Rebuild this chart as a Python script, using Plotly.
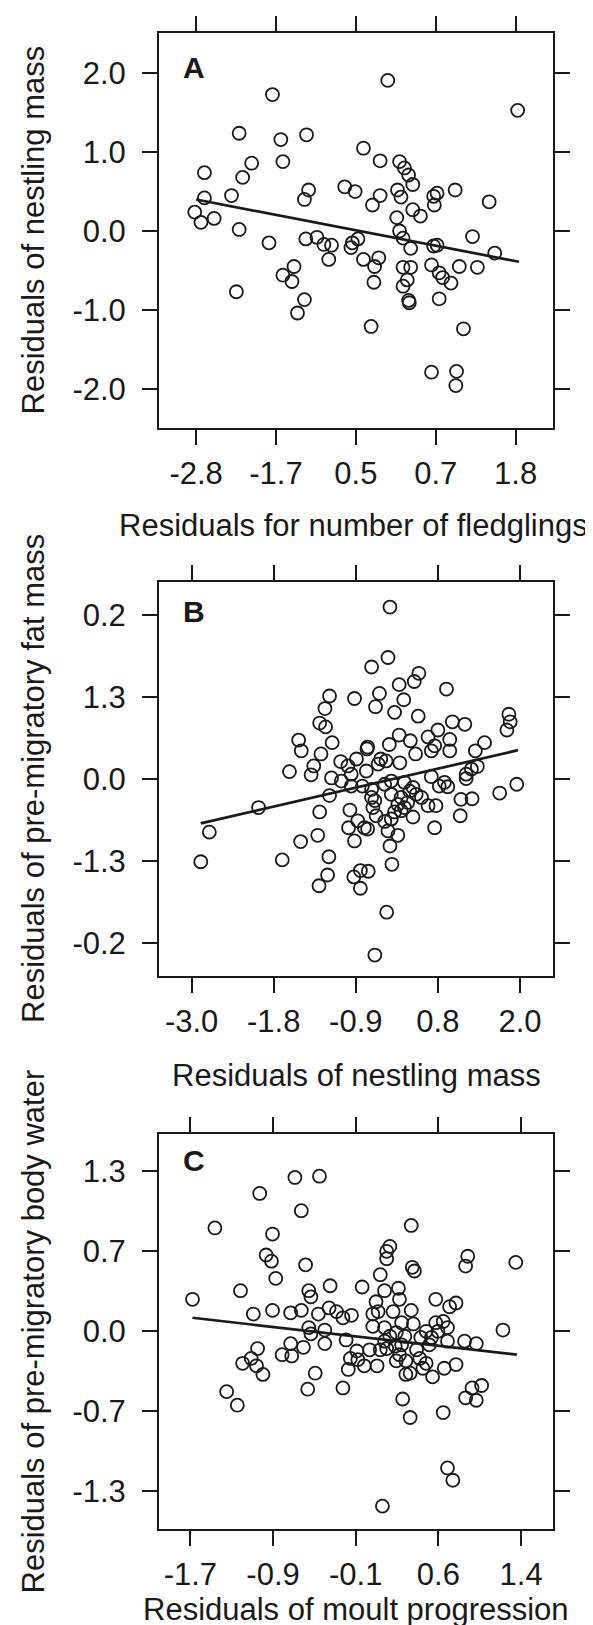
import plotly.graph_objects as go

# ---------------- Panel A ----------------
a_x = [-0.04, -1.70, 1.83, -2.18, -1.58, -1.21, -0.39, -2.68, -2.00, -1.55,
       -0.15, 0.13, 0.20, 0.26, 0.32, -2.13, -2.29, -2.68, -1.18, -1.24,
       -0.66, -0.51, -0.15, -0.26, 0.10, 0.15, 0.32, 0.43, 0.62, 0.67,
       0.63, 0.93, 1.42, -2.82, -2.73, -2.54, -2.18, 0.09, 0.13, 0.18,
       0.29, -1.75, -1.22, -1.06, -0.96, -0.85, -0.55, -0.47, -0.57, -0.89,
       -0.39, -0.17, -0.23, 0.62, 0.67, 1.18, 1.50, 0.59, 0.70, 0.75,
       0.87, 0.99, 1.25, -1.39, -1.55, -1.42, 0.18, 0.29, 0.24, 0.18,
       -0.24, -2.22, -1.24, -1.34, 0.26, 0.27, 0.70, -0.28, 1.05, 0.59,
       0.95, 0.94]
a_y = [1.91, 1.73, 1.53, 1.24, 1.16, 1.22, 1.05, 0.74, 0.86, 0.88,
       0.89, 0.88, 0.80, 0.71, 0.59, 0.68, 0.45, 0.42, 0.52, 0.40,
       0.56, 0.50, 0.45, 0.33, 0.52, 0.43, 0.27, 0.19, 0.44, 0.48,
       0.33, 0.52, 0.37, 0.24, 0.11, 0.16, 0.02, 0.17, 0.00, -0.09,
       -0.22, -0.15, -0.10, -0.08, -0.17, -0.18, -0.15, -0.10, -0.21, -0.36,
       -0.36, -0.34, -0.45, -0.19, -0.18, -0.07, -0.28, -0.43, -0.53, -0.59,
       -0.66, -0.45, -0.46, -0.45, -0.56, -0.64, -0.46, -0.46, -0.62, -0.70,
       -0.65, -0.77, -0.87, -1.04, -0.88, -0.91, -0.86, -1.21, -1.24, -1.79,
       -1.78, -1.96]
a_fit_x = [-2.80, 1.85]
a_fit_y = [0.40, -0.39]
a_xtickvals = [-2.8, -1.65, -0.5, 0.65, 1.8]
a_xticktext = ["-2.8", "-1.7", "0.5", "0.7", "1.8"]
a_ytickvals = [2.0, 1.0, 0.0, -1.0, -2.0]
a_yticktext = ["2.0", "1.0", "0.0", "-1.0", "-2.0"]

# ---------------- Panel B ----------------
b_x = [0.02, -0.01, -0.26, 0.46, 0.39, 0.16, 0.88, -0.90, -0.52, -0.14,
       -0.20, 0.23, -0.97, 0.09, 0.45, -1.05, -0.96, 0.97, 1.16, -1.37,
       -1.33, -0.86, -0.32, 0.01, 0.16, 0.33, 0.60, 0.75, 0.93, 0.70,
       0.65, 0.93, 1.46, 1.32, -1.03, -1.14, -1.51, -1.18, -0.87, -0.73,
       -0.62, -0.49, -0.33, -0.12, -0.04, 0.17, 0.41, -0.34, -0.57, -0.57,
       -0.40, -0.26, -0.06, 0.04, 0.24, 0.37, 0.65, 0.85, 0.90, 1.18,
       1.18, 1.35, 1.26, -0.90, -0.26, -0.21, 0.04, 0.19, 0.14, 0.24,
       0.50, 0.60, 0.72, 1.10, 1.27, -1.98, -1.05, -0.59, -0.47, -0.19,
       -0.06, 0.04, 0.09, 0.37, 1.09, -2.73, -2.86, -1.62, -1.34, -1.08,
       -0.61, -0.52, -0.37, -0.32, -0.01, 0.14, 0.70, 0.02, -0.91, -0.93,
       -1.06, -0.53, -0.43, -0.31, -0.43, 0.05, -0.03, -0.21, 0.77, -0.16,
       -0.72, -0.24, 0.32, 0.29, 0.19, 0.42, 1.83, 1.85, 1.80, 1.95,
       1.69]
b_y = [2.73, 1.93, 1.78, 1.68, 1.55, 1.50, 1.43, 1.32, 1.28, 1.36,
       1.15, 1.26, 1.12, 1.06, 1.00, 0.89, 0.83, 0.91, 0.87, 0.62,
       0.45, 0.58, 0.51, 0.55, 0.70, 0.61, 0.67, 0.78, 0.63, 0.53,
       0.45, 0.45, 0.58, 0.45, 0.40, 0.21, 0.12, 0.07, 0.02, 0.28,
       0.21, 0.32, 0.48, 0.32, 0.29, 0.26, 0.40, 0.13, 0.08, -0.11,
       -0.11, -0.16, -0.08, -0.03, -0.05, -0.13, 0.04, -0.05, -0.12, 0.08,
       0.01, 0.20, 0.16, -0.26, -0.29, -0.34, -0.24, -0.29, -0.40, -0.45,
       -0.29, -0.42, -0.42, -0.32, -0.31, -0.45, -0.52, -0.49, -0.66, -0.58,
       -0.67, -0.63, -0.52, -0.60, -0.58, -0.84, -1.31, -1.28, -0.99, -0.89,
       -0.77, -0.98, -0.77, -0.79, -0.82, -0.89, -0.77, -1.06, -1.23, -1.52,
       -1.69, -1.55, -1.45, -1.46, -1.73, -1.35, -2.11, -2.79, -0.11, 0.24,
       -0.03, -0.45, -0.19, -0.37, -0.50, -0.24, 1.03, 0.91, 0.78, -0.08,
       -0.22]
b_fit_x = [-2.86, 1.97]
b_fit_y = [-0.70, 0.46]
b_xtickvals = [-3.0, -1.75, -0.5, 0.75, 2.0]
b_xticktext = ["-3.0", "-1.8", "-0.9", "0.8", "2.0"]
b_ytickvals = [2.6, 1.3, 0.0, -1.3, -2.6]
b_yticktext = ["0.2", "1.3", "0.0", "-1.3", "-0.2"]

# ---------------- Panel C ----------------
c_x = [-0.72, -0.49, -1.05, -0.66, -1.47, -0.93, 0.37, 0.17, 0.14, 0.14,
       -0.99, -0.94, -0.62, 0.38, 0.40, -0.90, 0.08, 0.90, 0.88, -1.68,
       -1.23, -0.59, -0.57, -0.39, -0.09, 0.12, 0.25, 0.26, 0.04, 0.06,
       0.60, 0.73, 0.79, -1.11, -0.93, -0.76, -0.66, -0.50, -0.40, -0.33,
       -0.27, -0.19, 0.01, 0.20, 0.37, 0.01, 0.28, 0.39, 0.60, 0.67,
       0.71, -0.59, -0.57, -0.44, -0.24, -0.44, -0.64, -0.76, -0.84, -0.75,
       -1.07, -1.13, -1.21, -1.08, -1.02, -1.36, -1.26, -0.53, -0.60, -0.27,
       -0.22, -0.13, -0.07, 0.05, 0.08, 0.12, 0.17, 0.22, 0.26, 0.32,
       0.23, 0.32, 0.36, 0.45, 0.48, 0.51, 0.54, 0.57, 0.56, 0.71,
       0.79, 0.68, 0.87, 0.98, 0.88, 0.94, 0.98, 1.03, 0.29, 0.36,
       0.67, 0.71, 0.76, 0.10, -0.14, -0.02, 0.14, 0.28, 0.42, 0.46,
       0.62, 0.51, -0.20, 0.12, 0.23, 0.31, 1.35, 1.23]
c_y = [1.25, 1.26, 1.12, 0.98, 0.84, 0.79, 0.86, 0.69, 0.65, 0.59,
       0.62, 0.57, 0.54, 0.52, 0.49, 0.43, 0.46, 0.61, 0.53, 0.26,
       0.33, 0.33, 0.28, 0.37, 0.36, 0.33, 0.35, 0.26, 0.24, 0.16,
       0.26, 0.20, 0.23, 0.14, 0.17, 0.15, 0.17, 0.14, 0.19, 0.16,
       0.11, 0.13, 0.14, 0.16, 0.17, 0.04, 0.07, 0.06, 0.07, 0.08,
       0.03, 0.03, -0.02, 0.01, -0.07, -0.10, -0.13, -0.10, -0.19, -0.20,
       -0.14, -0.22, -0.26, -0.28, -0.35, -0.49, -0.60, -0.34, -0.47, -0.46,
       -0.31, -0.23, -0.28, -0.28, -0.15, -0.08, -0.04, -0.12, -0.19, -0.24,
       -0.24, -0.35, -0.34, -0.22, -0.30, -0.26, -0.11, -0.37, -0.05, -0.08,
       -0.27, -0.30, -0.08, -0.10, -0.54, -0.46, -0.56, -0.44, -0.55, -0.70,
       -0.66, -1.11, -1.21, -1.42, -0.16, -0.15, -0.14, -0.11, -0.15, -0.05,
       0.00, 0.00, -0.22, 0.03, -0.01, -0.04, 0.56, 0.01]
c_fit_x = [-1.68, 1.36]
c_fit_y = [0.11, -0.19]
c_xtickvals = [-1.7, -0.925, -0.15, 0.625, 1.4]
c_xticktext = ["-1.7", "-0.9", "-0.1", "0.6", "1.4"]
c_ytickvals = [1.3, 0.65, 0.0, -0.65, -1.3]
c_yticktext = ["1.3", "0.7", "0.0", "-0.7", "-1.3"]

panel_letters = ["A", "B", "C"]
x_titles = ["Residuals for number of fledglings",
            "Residuals of nestling mass",
            "Residuals of moult progression"]
y_titles = ["Residuals of nestling mass",
            "Residuals of pre-migratory fat mass",
            "Residuals of pre-migratory body water"]

# ---------------- Figure ----------------
W, H = 593, 1625
INK = "#1a1a1a"
FONT = "Liberation Sans"
box_left, box_right = 151, 545
boxes = [(25, 420), (574, 968), (1126, 1521)]  # top, bottom in px
xranges = [[-3.334, 2.339], [-3.496, 2.502], [-1.994, 1.699]]
yranges = [[-2.498, 2.511], [-3.122, 3.128], [-1.606, 1.603]]
letter_y = [0.913, 0.926, 0.932]
xtitle_y = [517, 1067, 1601]
xtitle_cx = [345, 348, 348]

fig = go.Figure()
panels = [
    (a_x, a_y, a_fit_x, a_fit_y, a_xtickvals, a_xticktext, a_ytickvals, a_yticktext),
    (b_x, b_y, b_fit_x, b_fit_y, b_xtickvals, b_xticktext, b_ytickvals, b_yticktext),
    (c_x, c_y, c_fit_x, c_fit_y, c_xtickvals, c_xticktext, c_ytickvals, c_yticktext),
]

layout = dict(
    width=W, height=H,
    margin=dict(l=0, r=0, t=0, b=0),
    paper_bgcolor="white", plot_bgcolor="white",
    showlegend=False,
    font=dict(family=FONT, color=INK),
)
annotations = []
for i, (px, py, fx, fy, xtv, xtt, ytv, ytt) in enumerate(panels):
    n = "" if i == 0 else str(i + 1)
    xa, ya = "x" + n, "y" + n
    fig.add_trace(go.Scatter(
        x=px, y=py, mode="markers", xaxis=xa, yaxis=ya,
        marker=dict(symbol="circle-open", size=13,
                    line=dict(width=1.8, color=INK), color=INK),
        hoverinfo="skip"))
    fig.add_trace(go.Scatter(
        x=fx, y=fy, mode="lines", xaxis=xa, yaxis=ya,
        line=dict(color=INK, width=2.7), hoverinfo="skip"))
    top, bot = boxes[i]
    axis_common = dict(
        showline=True, linewidth=2, linecolor=INK, mirror="ticks",
        ticks="outside", ticklen=15, tickwidth=1.8, tickcolor=INK,
        showgrid=False, zeroline=False, fixedrange=True,
        tickfont=dict(family=FONT, size=31, color=INK),
    )
    layout["xaxis" + n] = dict(
        axis_common, domain=[box_left / W, box_right / W],
        range=xranges[i], tickmode="array", tickvals=xtv, ticktext=xtt,
        anchor=ya, ticklabelstandoff=2)
    layout["yaxis" + n] = dict(
        axis_common, domain=[1 - bot / H, 1 - top / H],
        range=yranges[i], tickmode="array", tickvals=ytv, ticktext=ytt,
        anchor=xa, ticklabelstandoff=10)
    annotations.append(dict(
        text="<b>" + panel_letters[i] + "</b>", xref=xa + " domain", yref=ya + " domain",
        x=0.056, y=letter_y[i], xanchor="left", yanchor="middle", showarrow=False,
        font=dict(family=FONT, size=30, color=INK)))
    annotations.append(dict(
        text=x_titles[i], xref="paper", yref="paper",
        x=xtitle_cx[i] / W, y=1 - xtitle_y[i] / H,
        xanchor="center", yanchor="middle", showarrow=False,
        font=dict(family=FONT, size=31, color=INK)))
    annotations.append(dict(
        text=y_titles[i], xref="paper", yref="paper",
        x=25 / W, y=1 - (top + bot) / 2 / H, textangle=-90,
        xanchor="center", yanchor="middle", showarrow=False,
        font=dict(family=FONT, size=31, color=INK)))

layout["annotations"] = annotations
fig.update_layout(**layout)
fig.write_html("out.html")
